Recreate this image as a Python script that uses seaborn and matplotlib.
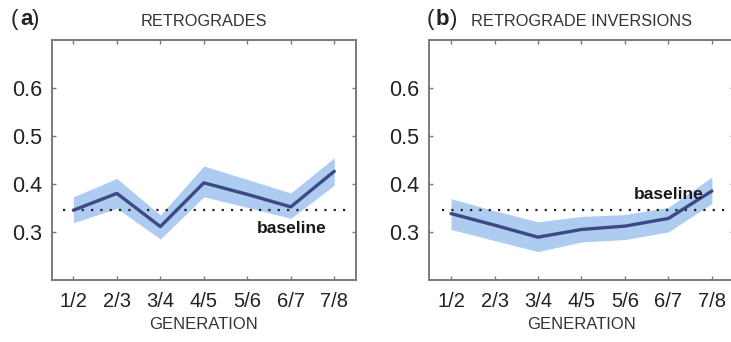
import matplotlib
matplotlib.use("Agg")
import matplotlib.pyplot as plt
import seaborn as sns
import numpy as np
import pandas as pd

# values
generations = ['1/2', '2/3', '3/4', '4/5', '5/6', '6/7', '7/8']
retro_mean = [0.346, 0.381, 0.312, 0.403, 0.379, 0.353, 0.427]
retro_low = [0.320, 0.350, 0.286, 0.374, 0.352, 0.329, 0.398]
retro_high = [0.374, 0.412, 0.336, 0.438, 0.410, 0.382, 0.455]
inv_mean = [0.339, 0.315, 0.290, 0.306, 0.313, 0.329, 0.386]
inv_low = [0.306, 0.283, 0.260, 0.280, 0.285, 0.301, 0.360]
inv_high = [0.370, 0.345, 0.322, 0.333, 0.337, 0.352, 0.415]
baseline = 0.346
titles = ['RETROGRADES', 'RETROGRADE INVERSIONS']

sns.set_theme(style="white")
plt.rcParams['font.family'] = ['Liberation Sans', 'DejaVu Sans']

LINE = '#3b4a82'
BAND = '#aecbf1'
BOX = '#7a7a7a'
TXT = '#222222'

fig = plt.figure(figsize=(7.31, 3.42), dpi=100)
ax_a = fig.add_axes([0.0707, 0.180, 0.4163, 0.703])
ax_b = fig.add_axes([0.5873, 0.180, 0.4163, 0.703])

panels = [
    (ax_a, retro_mean, retro_low, retro_high, (-0.25, 6.3), (5.03, 0.309)),
    (ax_b, inv_mean, inv_low, inv_high, (-0.2, 6.6), (5.0, 0.379)),
]

for i, (ax, mean, low, high, base_span, txt_pos) in enumerate(panels):
    df = pd.DataFrame({'gen': np.arange(len(generations)), 'val': mean})
    ax.fill_between(df['gen'], low, high, color=BAND, lw=0, zorder=1)
    sns.lineplot(data=df, x='gen', y='val', ax=ax, color=LINE, lw=2.4, zorder=3)
    ax.hlines(baseline, *base_span, colors='#222222', linestyles=(0, (1, 3.2)),
              lw=1.6, zorder=2)
    ax.text(txt_pos[0], txt_pos[1], 'baseline', ha='center', va='center',
            fontsize=12.5, fontweight='bold', color='#1a1a1a', zorder=4)

    ax.set_xlim(-0.5, 6.5)
    ax.set_ylim(0.2, 0.7)
    ax.set_xticks(range(len(generations)))
    ax.set_xticklabels(generations)
    ax.set_yticks([0.3, 0.4, 0.5, 0.6])
    ax.set_yticklabels(['0.3', '0.4', '0.5', '0.6'])
    ax.tick_params(axis='both', direction='in', length=3, width=1, color=BOX,
                   labelcolor=TXT, top=True, right=True, bottom=True, left=True)
    ax.tick_params(axis='x', labelsize=14.5, pad=8)
    ax.tick_params(axis='y', labelsize=15.5, pad=7)
    for s in ax.spines.values():
        s.set_color(BOX)
        s.set_linewidth(1.4)
    ax.set_xlabel('GENERATION', fontsize=12, color='#333333', labelpad=5)
    ax.set_ylabel('')
    ax.set_title(titles[i], fontsize=11.8, color='#333333', pad=10)
    ax.grid(False)

for x0, tag in [(0.015, 'a'), (0.584, 'b')]:
    fig.text(x0, 0.944, '(', fontsize=16, va='center', ha='left', color=TXT)
    fig.text(x0 + 0.0125, 0.944, tag, fontsize=16, fontweight='bold',
             va='center', ha='left', color=TXT)
    fig.text(x0 + 0.0125 + (0.0165 if tag == 'a' else 0.0185), 0.944, ')',
             fontsize=16, va='center', ha='left', color=TXT)

fig.savefig('out.png', dpi=100)
